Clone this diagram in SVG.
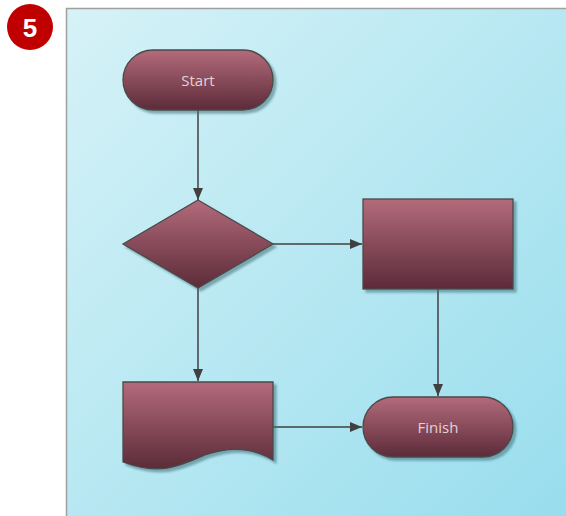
<svg xmlns="http://www.w3.org/2000/svg" width="566" height="516" viewBox="0 0 566 516">
<defs>
<linearGradient id="bg" x1="0" y1="0" x2="1" y2="1">
<stop offset="0" stop-color="#d6f2f7"/>
<stop offset="1" stop-color="#97dded"/>
</linearGradient>
<linearGradient id="node" x1="0" y1="0" x2="0" y2="1">
<stop offset="0" stop-color="#b36b7b"/>
<stop offset="1" stop-color="#5c2b39"/>
</linearGradient>
<filter id="sh" x="-10%" y="-10%" width="130%" height="130%">
<feGaussianBlur in="SourceAlpha" stdDeviation="1.2"/>
<feOffset dx="3" dy="3" result="b"/>
<feFlood flood-color="#3f6f78" flood-opacity="0.55"/>
<feComposite in2="b" operator="in"/>
<feMerge><feMergeNode/><feMergeNode in="SourceGraphic"/></feMerge>
</filter>
<marker id="arr" markerWidth="12" markerHeight="10" refX="12" refY="5" orient="auto" markerUnits="userSpaceOnUse">
<path d="M0,0 L12,5 L0,10 Z" fill="#404040"/>
</marker>
<style>
.n{fill:url(#node);stroke:#4a4a4a;stroke-width:1.3;filter:url(#sh)}
.t{font-family:"Open Sans","Liberation Sans",sans-serif;font-size:15px;fill:#e6cfd7;text-anchor:middle;dominant-baseline:central}
.c{stroke:#404040;stroke-width:1.5;fill:none;marker-end:url(#arr)}
</style>
</defs>
<rect x="0" y="0" width="566" height="516" fill="#ffffff"/>
<rect x="66.5" y="8.5" width="510" height="520" fill="url(#bg)" stroke="#a0a0a0" stroke-width="1.5"/>
<g id="badge">
<circle cx="30" cy="27" r="23" fill="#c00000"/>
<text x="30" y="28" font-family="'Liberation Sans',Arial,sans-serif" font-weight="bold" font-size="26" fill="#ffffff" text-anchor="middle" dominant-baseline="central">5</text>
</g>
<g id="connectors">
<line class="c" x1="198" y1="110" x2="198" y2="200"/>
<line class="c" x1="273" y1="244" x2="362" y2="244"/>
<line class="c" x1="198" y1="288" x2="198" y2="381"/>
<line class="c" x1="438" y1="289" x2="438" y2="396"/>
<line class="c" x1="273" y1="427" x2="362" y2="427"/>
</g>
<g id="start">
<rect class="n" x="123" y="50" width="150" height="60" rx="30"/>
<text class="t" x="198" y="80">Start</text>
</g>
<g id="decision">
<polygon class="n" points="198,200 273,244 198,288 123,244"/>
</g>
<g id="process">
<rect class="n" x="363" y="199" width="150" height="90"/>
</g>
<g id="document">
<path class="n" d="M123,382 H273 V460 C255,448 230,446 205,455 C180,466 160,476 123,462 Z"/>
</g>
<g id="finish">
<rect class="n" x="363" y="397" width="150" height="60" rx="30"/>
<text class="t" x="438" y="427">Finish</text>
</g>
</svg>
